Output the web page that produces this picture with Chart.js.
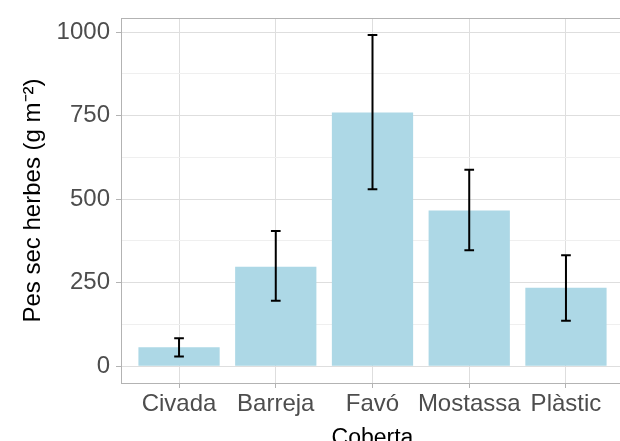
<!DOCTYPE html>
<html>
<head>
<meta charset="utf-8">
<script src="https://cdn.jsdelivr.net/npm/chart.js@4.4.0/dist/chart.umd.min.js"></script>
<style>
  html, body { margin: 0; padding: 0; overflow: hidden; background: #fff; }
</style>
</head>
<body>
<canvas id="grafic" width="624" height="452"></canvas>
<script>
// dades llegides del grafic
const categories = ["Civada", "Barreja", "Favó", "Mostassa", "Plàstic"];
const mitjanes = [57, 298, 759, 466, 235];
const errInf = [29, 196, 530, 347, 136];
const errSup = [84, 405, 991, 588, 332];
const ticksY = [0, 250, 500, 750, 1000];
const ticksYmenors = [125, 375, 625, 875];

const gris = "#B3B3B3";
const font = "'Liberation Sans', Arial, sans-serif";

// marc del panell (estil theme_light)
const vora = {
	id: "vora",
	beforeDatasetsDraw(chart) {
		const a = chart.chartArea;
		const ctx = chart.ctx;
		ctx.save();
		ctx.strokeStyle = gris;
		ctx.lineWidth = 1;
		ctx.strokeRect(a.left + 0.5, a.top + 0.5, a.right - a.left, a.bottom - a.top);
		ctx.restore();
	}
};

// barres d'error
const barresError = {
	id: "barresError",
	afterDatasetsDraw(chart) {
		const xs = chart.scales.x;
		const ys = chart.scales.y;
		const ctx = chart.ctx;
		const mig = (xs.getPixelForValue(0.05) - xs.getPixelForValue(0));
		ctx.save();
		ctx.strokeStyle = "#000";
		ctx.lineWidth = 2;
		for (let i = 0; i < categories.length; i++) {
			const x = xs.getPixelForValue(i);
			const y1 = ys.getPixelForValue(errSup[i]);
			const y2 = ys.getPixelForValue(errInf[i]);
			ctx.beginPath();
			ctx.moveTo(x, y1); ctx.lineTo(x, y2);
			ctx.moveTo(x - mig, y1); ctx.lineTo(x + mig, y1);
			ctx.moveTo(x - mig, y2); ctx.lineTo(x + mig, y2);
			ctx.stroke();
		}
		ctx.restore();
	}
};

const ctx1 = document.getElementById("grafic").getContext("2d");
let grafic = new Chart(ctx1, {
	type: "bar",
	data: {
		datasets: [
			{
				label: "Pes sec",
				data: categories.map((c, i) => ({ x: i, y: mitjanes[i] })),
				backgroundColor: "#ADD8E6",
				borderWidth: 0,
				barPercentage: 0.84,
				categoryPercentage: 1,
			}
		],
	},
	options: {
		responsive: false,
		animation: false,
		layout: { padding: { top: 14, right: 0, left: 0, bottom: 0 } },
		plugins: {
			legend: { display: false },
			tooltip: { enabled: false },
		},
		scales: {
			x: {
				type: "linear",
				min: -0.6,
				max: 4.6,
				offset: false,
				afterBuildTicks: (s) => { s.ticks = categories.map((c, i) => ({ value: i })); },
				afterFit: (s) => { s.height = 69; },
				ticks: {
					callback: (v) => categories[v],
					color: "#4D4D4D",
					font: { family: font, size: 24 },
					padding: 2,
					maxRotation: 0,
					autoSkip: false,
				},
				grid: {
					offset: false,
					color: "#DEDEDE",
					tickColor: gris,
					tickLength: 5,
				},
				border: { display: false },
				title: {
					display: true,
					text: "Coberta",
					color: "#000",
					font: { family: font, size: 23 },
					padding: { top: 0, bottom: 0 },
				},
			},
			y: {
				min: -50,
				max: 1042,
				afterBuildTicks: (s) => {
					s.ticks = ticksY.concat(ticksYmenors).sort((a, b) => a - b).map(v => ({ value: v }));
				},
				afterFit: (s) => { s.width = 121; },
				ticks: {
					callback: (v) => ticksY.includes(v) ? String(v) : "",
					color: "#4D4D4D",
					font: { family: font, size: 24, lineHeight: 1 },
					padding: 6,
				},
				grid: {
					color: (c) => ticksY.includes(c.tick.value) ? "#DEDEDE" : "#EFEFEF",
					tickColor: (c) => ticksY.includes(c.tick.value) ? gris : "rgba(0,0,0,0)",
					tickLength: 5,
				},
				border: { display: false },
				title: {
					display: true,
					text: "Pes sec herbes (g m⁻²)",
					color: "#000",
					font: { family: font, size: 24 },
					padding: { top: 19, bottom: 0 },
				},
			},
		},
	},
	plugins: [vora, barresError],
});
</script>
</body>
</html>
